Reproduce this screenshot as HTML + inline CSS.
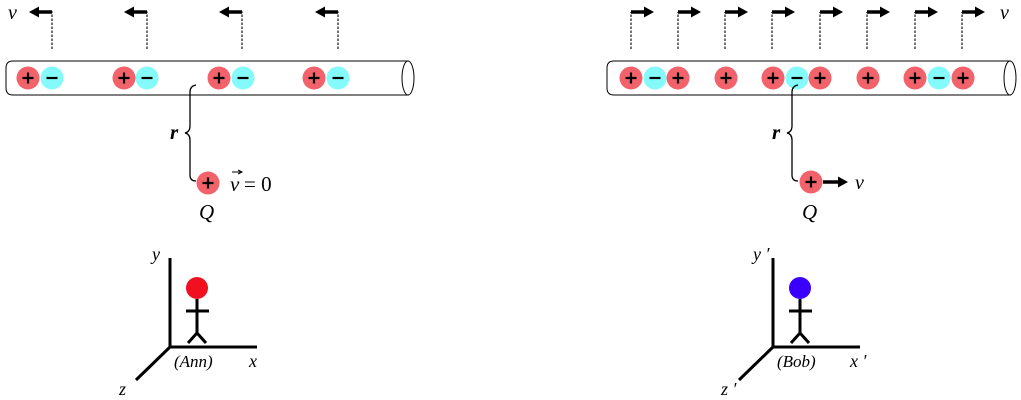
<!DOCTYPE html>
<html><head><meta charset="utf-8"><style>
html,body{margin:0;padding:0;background:#fff;}
svg{display:block}
text{font-family:"Liberation Serif",serif;font-style:italic;}
</style></head><body>
<svg width="1021" height="400" viewBox="0 0 1021 400" xmlns="http://www.w3.org/2000/svg">
<defs>
<g id="p"><circle r="11.5" fill="#f2626a"/><path d="M-5.5 0H5.5M0 -5.5V5.5" stroke="#000" stroke-width="2.2"/></g>
<g id="n"><circle r="11.5" fill="#84fafa"/><path d="M-5.5 0H5.5" stroke="#000" stroke-width="2.2"/></g>
<g id="al"><path d="M0 49V12H-15" fill="none" stroke="#000" stroke-width="1.1" stroke-dasharray="2.5,1.5"/><path d="M0 12H-15" stroke="#000" stroke-width="3.5"/><path d="M-23 12L-13 6.5V17.5Z"/></g>
<g id="ar"><path d="M0 49V12" fill="none" stroke="#000" stroke-width="1.1" stroke-dasharray="2.5,1.5"/><path d="M0 12H14" stroke="#000" stroke-width="3.5"/><path d="M23 12L13 6.5V17.5Z"/></g>
</defs>
<g>
<use href="#al" x="52" y="0"/><use href="#al" x="147" y="0"/><use href="#al" x="242" y="0"/><use href="#al" x="338" y="0"/>
<path d="M409 61H13Q6 61 6 68V88Q6 95 13 95H409" fill="#fff" stroke="#000" stroke-width="1"/>
<ellipse cx="408" cy="78" rx="6" ry="17" fill="#fff" stroke="#000"/>
<use href="#p" x="28" y="78"/><use href="#n" x="52" y="78"/>
<use href="#p" x="124" y="78"/><use href="#n" x="147" y="78"/>
<use href="#p" x="219" y="78"/><use href="#n" x="243" y="78"/>
<use href="#p" x="314" y="78"/><use href="#n" x="338" y="78"/>
<text x="8" y="19" font-size="20">v</text>
<path d="M196 85Q190 86 190 92V126Q190 132 185 133Q190 134 190 140V175Q190 181 196 181" fill="none" stroke="#000" stroke-width="1.3"/>
<text x="170" y="139" font-size="21" font-weight="bold">r</text>
<use href="#p" x="208" y="183"/>
<text x="230" y="191" font-size="21">v</text>
<path d="M232 172H241M238 170L242 172L238 174" fill="none" stroke="#000" stroke-width="1"/>
<text x="244" y="191" font-size="21" style="font-style:normal">= 0</text>
<text x="199" y="219" font-size="21">Q</text>
</g>
<g>
<use href="#ar" x="631" y="0"/><use href="#ar" x="678" y="0"/><use href="#ar" x="725" y="0"/><use href="#ar" x="772" y="0"/><use href="#ar" x="820" y="0"/><use href="#ar" x="867" y="0"/><use href="#ar" x="915" y="0"/><use href="#ar" x="962" y="0"/>
<path d="M1011 61H614Q607 61 607 68V88Q607 95 614 95H1011" fill="#fff" stroke="#000" stroke-width="1"/>
<ellipse cx="1010" cy="78" rx="6" ry="17" fill="#fff" stroke="#000"/>
<use href="#p" x="631" y="78"/><use href="#n" x="655" y="78"/><use href="#p" x="678" y="78"/>
<use href="#p" x="726" y="78"/>
<use href="#p" x="773" y="78"/><use href="#n" x="797" y="78"/><use href="#p" x="820" y="78"/>
<use href="#p" x="868" y="78"/>
<use href="#p" x="915" y="78"/><use href="#n" x="939" y="78"/><use href="#p" x="963" y="78"/>
<text x="1000" y="19" font-size="20">v</text>
<path d="M798 85Q792 86 792 92V126Q792 132 787 133Q792 134 792 140V175Q792 181 798 181" fill="none" stroke="#000" stroke-width="1.3"/>
<text x="772" y="139" font-size="21" font-weight="bold">r</text>
<use href="#p" x="811" y="182"/>
<path d="M823 182H839" stroke="#000" stroke-width="3.5"/><path d="M848 182L838 176.5V187.5Z"/>
<text x="855" y="189" font-size="20">v</text>
<text x="802" y="219" font-size="21">Q</text>
</g>
<g stroke="#000" stroke-width="3" fill="none">
<path d="M170 258V347H257M170 347L136 380"/>
<path d="M197 299V333M186 311H209M188 343L197 333L206 343"/>
<path d="M773 258V347H860M773 347L739 380"/>
<path d="M800 299V333M789 311H812M791 343L800 333L809 343"/>
</g>
<circle cx="197" cy="288" r="11" fill="#f01020"/>
<circle cx="800" cy="288" r="11" fill="#3a00ff"/>
<text x="152" y="260" font-size="18">y</text>
<text x="249" y="367" font-size="18">x</text>
<text x="119" y="395" font-size="18">z</text>
<text x="174" y="367" font-size="17">(Ann)</text>
<text x="753" y="260" font-size="18">y ′</text>
<text x="850" y="367" font-size="18">x ′</text>
<text x="721" y="395" font-size="18">z ′</text>
<text x="777" y="367" font-size="17">(Bob)</text>
</svg>
</body></html>
